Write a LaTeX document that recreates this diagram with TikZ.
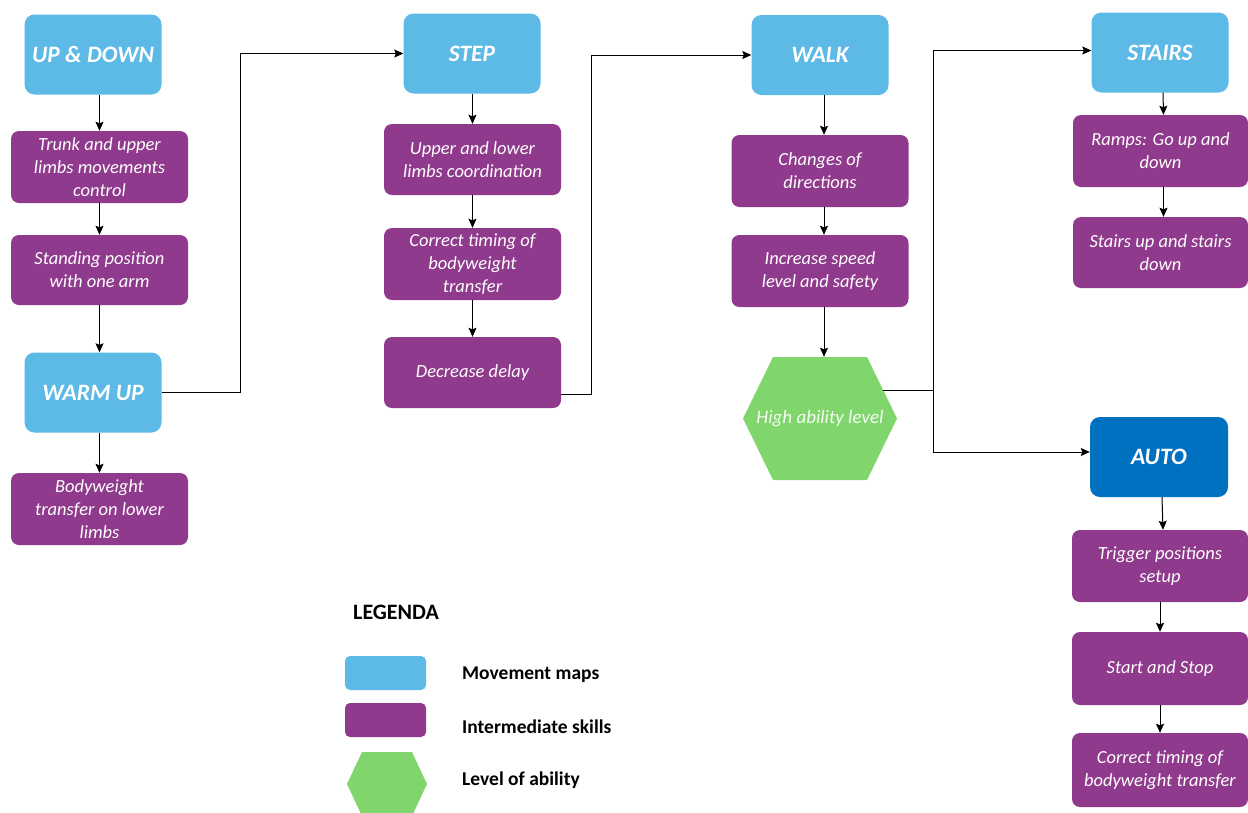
\documentclass[tikz,border=0pt]{standalone}
\usepackage{fontspec}
\setmainfont{Carlito}
\usetikzlibrary{arrows.meta}
\definecolor{mblue}{RGB}{93,185,230}
\definecolor{mdblue}{RGB}{0,112,192}
\definecolor{mpurp}{RGB}{143,58,140}
\definecolor{mgreen}{RGB}{128,214,108}
\tikzset{
  mapbox/.style={fill=mblue, rounded corners=10pt, minimum width=137pt, minimum height=80pt, inner sep=0pt, text=white, font=\fontsize{23.5}{26}\selectfont\bfseries\itshape},
  skillbox/.style={fill=mpurp, rounded corners=8pt, minimum width=177pt, minimum height=72pt, inner sep=0pt, text=white, align=center, font=\fontsize{18.5}{23}\selectfont\itshape},
  arr/.style={draw=black, line width=1pt, -{Stealth[length=9pt,width=8pt,inset=1.5pt]}},
  conn/.style={draw=black, line width=1pt},
  legtext/.style={anchor=west, inner sep=0pt, font=\fontsize{19.5}{22}\selectfont\bfseries},
}
\begin{document}
\begin{tikzpicture}[x=1pt,y=-1pt]
\useasboundingbox (0,0) rectangle (1248,812);
\fill[white] (0,0) rectangle (1248,812);
% column 1
\node[mapbox] (up) at (93,54.5) {UP \& DOWN};
\node[skillbox] (trunk) at (99.5,167) {Trunk and upper\\limbs movements\\control};
\node[skillbox, minimum height=70pt] (stand) at (99.5,270) {Standing position\\with one arm};
\node[mapbox] (warm) at (93,392.5) {WARM UP};
\node[skillbox] (body) at (99.5,509) {Bodyweight\\transfer on lower\\limbs};
% column 2
\node[mapbox] (step) at (472,53.5) {STEP};
\node[skillbox, minimum height=71pt] (ul) at (472.5,159.5) {Upper and lower\\limbs coordination};
\node[skillbox] (ct) at (472.5,264) {Correct timing of\\bodyweight\\transfer};
\node[skillbox, minimum height=71pt] (dec) at (472.5,372.5) {Decrease delay};
% column 3
\node[mapbox] (walk) at (820,55) {WALK};
\node[skillbox] (chg) at (820,171) {Changes of\\directions};
\node[skillbox] (inc) at (820,271) {Increase speed\\level and safety};
\fill[mgreen] (743,418.5) -- (773,357) -- (867,357) -- (897,418.5) -- (867,480) -- (773,480) -- cycle;
\node[inner sep=0pt, minimum width=154pt, minimum height=123pt, text=white!92!mgreen, font=\fontsize{19}{22}\selectfont\itshape] (hex) at (820,418.5) {High ability level};
\coordinate (hexr) at (883,390);
% column 4
\node[mapbox] (stairs) at (1160,52.5) {STAIRS};
\node[skillbox, minimum width=175pt] (ramps) at (1160.5,151) {Ramps: Go up and\\down};
\node[skillbox, minimum width=175pt, minimum height=71pt] (sup) at (1160.5,252.5) {Stairs up and stairs\\down};
\node[mapbox, fill=mdblue, minimum width=138pt] (auto) at (1159,457) {AUTO};
\node[skillbox, minimum width=176pt] (trig) at (1160,566) {Trigger positions\\setup};
\node[skillbox, minimum width=176pt, minimum height=73pt] (ss) at (1160,668.5) {Start and Stop};
\node[skillbox, minimum width=176pt, minimum height=74pt] (ct2) at (1160,770) {Correct timing of\\bodyweight transfer};
% vertical arrows
\draw[arr] (up.south -| trunk.north) -- (trunk.north);
\draw[arr] (trunk.south) -- (stand.north);
\draw[arr] (stand.south) -- (warm.north -| stand.south);
\draw[arr] (warm.south -| body.north) -- (body.north);
\draw[arr] (step.south -| ul.north) -- (ul.north);
\draw[arr] (ul.south) -- (ct.north);
\draw[arr] (ct.south) -- (dec.north);
\draw[arr] ([xshift=4pt]walk.south) -- ([xshift=4pt]chg.north);
\draw[arr] ([xshift=4pt]chg.south) -- ([xshift=4pt]inc.north);
\draw[arr] ([xshift=4pt]inc.south) -- ([xshift=4pt]hex.north);
\draw[arr] ([xshift=3pt]stairs.south) -- ([xshift=3pt]ramps.north);
\draw[arr] ([xshift=3pt]ramps.south) -- ([xshift=3pt]sup.north);
\draw[arr] ([xshift=3pt]auto.south) -- ([xshift=3pt]trig.north);
\draw[arr] (trig.south) -- (ss.north);
\draw[arr] (ss.south) -- (ct2.north);
% elbow connectors
\draw[arr] (warm.east) -- ++(79,0) |- (step.west);
\draw[arr] ([yshift=-22pt]dec.east) -- ++(30,0) |- (walk.west);
\coordinate (split) at (933,390);
\draw[conn] (hexr) -- (split);
\draw[arr] (split) |- ([yshift=2pt]stairs.west);
\draw[arr] (split) |- ([yshift=5pt]auto.west);
% legend
\node[anchor=west, inner sep=0pt, font=\fontsize{22}{24}\selectfont\bfseries] (legtitle) at (353,612) {LEGENDA};
\node[fill=mblue, rounded corners=5pt, minimum width=81pt, minimum height=34pt, inner sep=0pt] (legblue) at (385.5,673) {};
\node[fill=mpurp, rounded corners=5pt, minimum width=81pt, minimum height=34pt, inner sep=0pt] (legpurp) at (385.5,720) {};
\fill[mgreen] (347,784) -- (362,752) -- (412,752) -- (427,784) -- (412,816) -- (362,816) -- cycle;
\coordinate (leghex) at (387,784);
\node[legtext] (lt1) at (462,675) {Movement maps};
\node[legtext] (lt2) at (462,727) {Intermediate skills};
\node[legtext] (lt3) at (462,780) {Level of ability};
\end{tikzpicture}
\end{document}
